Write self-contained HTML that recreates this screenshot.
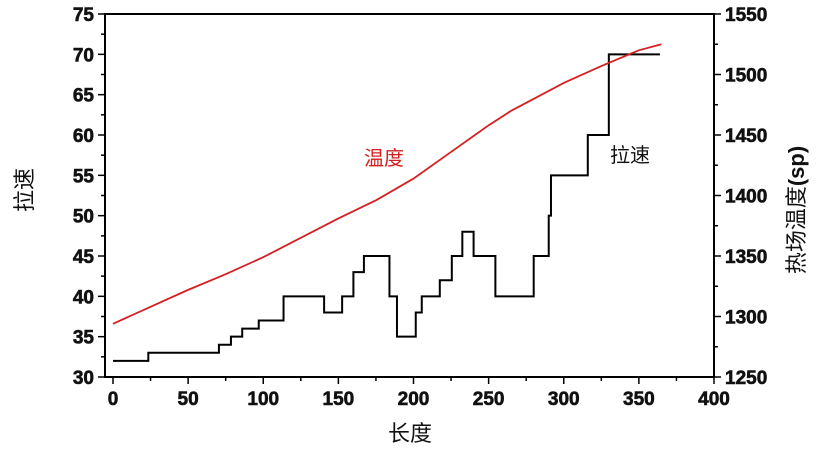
<!DOCTYPE html>
<html><head><meta charset="utf-8"><style>
body{margin:0;background:#fff;width:817px;height:448px;overflow:hidden}
text{font-family:"Liberation Sans","Noto Sans CJK SC",sans-serif}
.t{font-weight:bold;font-size:19px;fill:#111;stroke:#111;stroke-width:0.6}
</style></head><body>
<svg id="c" width="817" height="448"></svg>
<script>
const stepX=[0,23.5,70.5,78.5,86,97,113.5,140.5,152.5,160,167,184,189,201.5,205.5,217.5,225.5,232.5,240,252,254.5,280,290,291.5,293,316,330,364];
const stepY=[32,33,34,35,36,37,40,38,40,43,45,40,35,38,40,42,45,48,45,45,40,45,50,55,55,60,70,70];
const tempX=[0,25,50,75,100,125,150,175,200,225,250,265,300,325,350,365];
const tempY=[1294,1308,1322,1335,1349,1365,1381,1396,1414,1436,1458,1470,1493,1507,1520,1525];
const xTicks=[0,50,100,150,200,250,300,350,400];
const yTicks=[30,35,40,45,50,55,60,65,70,75];
const y2Ticks=[1250,1300,1350,1400,1450,1500,1550];
const L=105,R=714,T=14,B=377;
const sx=v=>113+(v)*(714-113)/400;
const sy=v=>B-(v-30)*(B-T)/45;
const sy2=v=>B-(v-1250)*(B-T)/300;
const svg=document.getElementById('c');
const NS='http://www.w3.org/2000/svg';
function mk(tag,attrs,txt){const e=document.createElementNS(NS,tag);for(const k in attrs)e.setAttribute(k,attrs[k]);if(txt!==undefined)e.textContent=txt;svg.appendChild(e);return e;}
let e;
e=mk('rect',{x:L,y:T,width:R-L,height:B-T,fill:'none',stroke:'#000','stroke-width':2});


for(let v=0;v<=400;v+=25){const maj=v%50===0;e=mk('line',{x1:sx(v),x2:sx(v),y1:B,y2:B+(maj?7:4),stroke:'#000','stroke-width':1.5});

}
xTicks.forEach(v=>{e=mk('text',{x:sx(v),y:B+28,'text-anchor':'middle',class:'t'},v);

});
for(let v=30;v<=75;v+=2.5){const maj=v%5===0;e=mk('line',{x1:L,x2:L-(maj?7:4),y1:sy(v),y2:sy(v),stroke:'#000','stroke-width':1.5});

}
yTicks.forEach(v=>{e=mk('text',{x:L-11,y:sy(v)+7,'text-anchor':'end',class:'t'},v);

});
for(let v=1250;v<=1550;v+=25){const maj=v%50===0;e=mk('line',{x1:R,x2:R+(maj?7:4),y1:sy2(v),y2:sy2(v),stroke:'#000','stroke-width':1.5});

}
y2Ticks.forEach(v=>{e=mk('text',{x:R+11,y:sy2(v)+7,'text-anchor':'start',class:'t'},v);

});
let d='';stepX.forEach((x,i)=>{if(i===0)d+='M'+sx(x)+','+sy(stepY[i]);else d+=' L'+sx(x)+','+sy(stepY[i-1])+' L'+sx(x)+','+sy(stepY[i]);});
e=mk('path',{d:d,fill:'none',stroke:'#000','stroke-width':2});


let d2=tempX.map((x,i)=>(i?'L':'M')+sx(x)+','+sy2(tempY[i])).join(' ');
e=mk('path',{d:d2,fill:'none',stroke:'#d42020','stroke-width':1.8});


e=mk('text',{x:364,y:165,fill:'#d42020','font-size':20},'温度');


e=mk('text',{x:610,y:162,fill:'#111','font-size':20},'拉速');


e=mk('text',{x:410,y:441,'text-anchor':'middle','font-size':22,fill:'#111'},'长度');


e=mk('text',{x:0,y:0,'text-anchor':'middle','font-size':22,fill:'#111',transform:'translate(32,190) rotate(-90)'},'拉速');


e=mk('text',{x:0,y:0,'text-anchor':'middle','font-size':22,fill:'#111',transform:'translate(804,210) rotate(-90)'});


e.innerHTML='热场温度<tspan font-weight="bold">(sp)</tspan>';
</script>
</body></html>
